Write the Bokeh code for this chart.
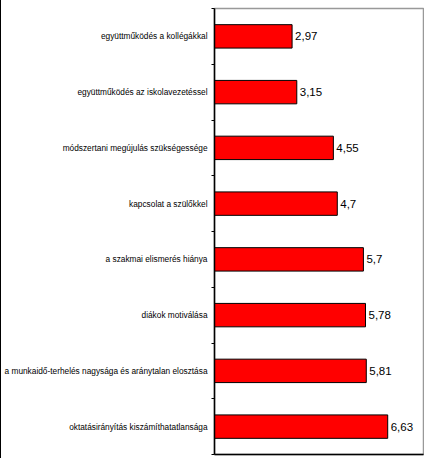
from bokeh.plotting import figure
from bokeh.models import ColumnDataSource, Range1d, FixedTicker, LabelSet
from bokeh.core.properties import value
from bokeh.embed import file_html
from bokeh.resources import INLINE

categories = [
    "együttműködés a kollégákkal",
    "együttműködés az iskolavezetéssel",
    "módszertani megújulás szükségessége",
    "kapcsolat a szülőkkel",
    "a szakmai elismerés hiánya",
    "diákok motiválása",
    "a munkaidő-terhelés nagysága és aránytalan elosztása",
    "oktatásirányítás kiszámíthatatlansága",
]
values = [2.97, 3.15, 4.55, 4.7, 5.7, 5.78, 5.81, 6.63]
value_labels = [f"{v}".replace(".", ",") for v in values]

pos = list(range(1, len(categories) + 1))
src = ColumnDataSource(dict(y=pos, v=values, lab=value_labels))

FONT = "Liberation Sans"

p = figure(width=424, height=458, output_backend="svg", toolbar_location=None,
           x_range=Range1d(0, 8), y_range=Range1d(len(categories) + 0.5, 0.5),
           min_border_left=212, min_border_right=2, min_border_top=8, min_border_bottom=4,
           styles={"border-left": "1.5px solid black"})
p.hbar(y="y", right="v", left=0, height=0.42, source=src,
       fill_color="#FF0000", line_color="black", line_width=1)
p.add_layout(LabelSet(x="v", y="y", text="lab", source=src, x_offset=3,
                      text_baseline="middle", text_align="left",
                      text_font=value(FONT), text_font_size=value("11.5px"),
                      text_color="black"))

p.grid.visible = False
p.outline_line_color = "#999999"
p.outline_line_width = 1.5
p.background_fill_color = "white"
p.border_fill_color = "white"

ya = p.yaxis[0]
ya.ticker = FixedTicker(ticks=pos, minor_ticks=[i + 0.5 for i in range(len(categories) + 1)])
ya.major_label_overrides = {i + 1: c for i, c in enumerate(categories)}
ya.major_tick_out = 0
ya.major_tick_in = 0
ya.minor_tick_out = 3
ya.minor_tick_in = 0
ya.minor_tick_line_color = "black"
ya.axis_line_color = "black"
ya.axis_line_width = 1.5
ya.major_label_text_font = FONT
ya.major_label_text_font_size = "8.3px"
ya.major_label_text_color = "black"
ya.major_label_standoff = 4

xa = p.xaxis[0]
xa.ticker = FixedTicker(ticks=[], minor_ticks=[])
xa.major_tick_out = 0
xa.major_tick_in = 0
xa.minor_tick_out = 0
xa.minor_tick_in = 0
xa.major_label_standoff = 0
xa.axis_line_color = "black"
xa.axis_line_width = 1.5

open("out.html", "w").write(file_html(p, INLINE))
